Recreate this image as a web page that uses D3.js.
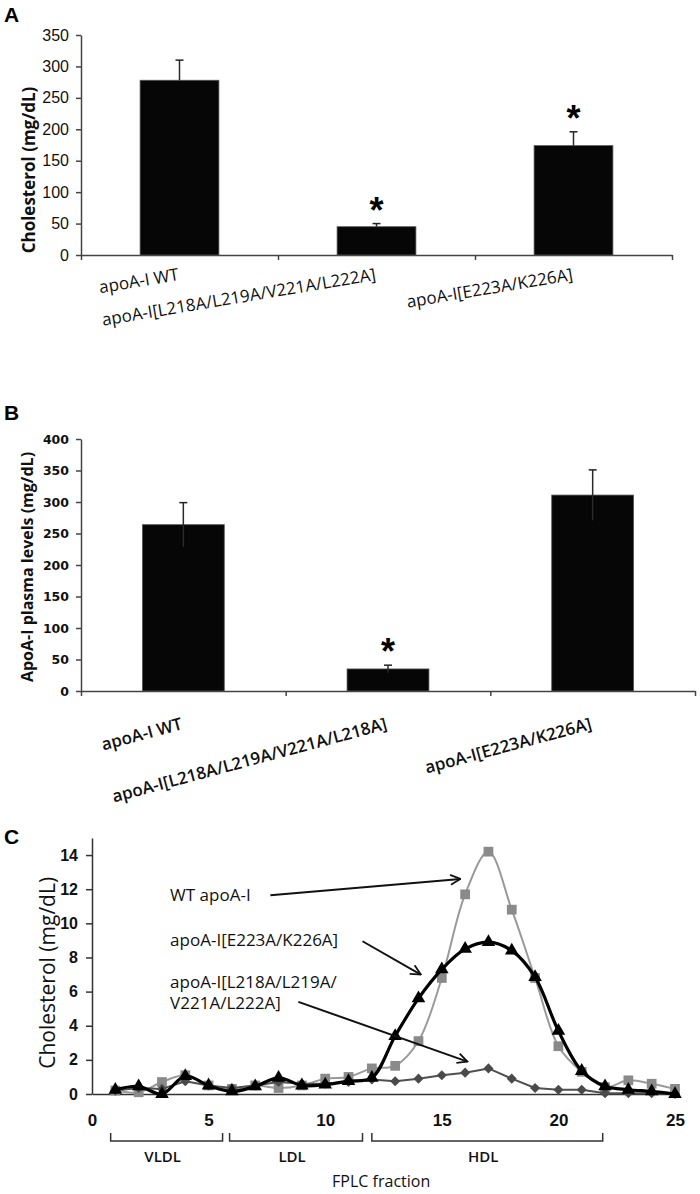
<!DOCTYPE html>
<html>
<head>
<meta charset="utf-8">
<script src="https://cdn.jsdelivr.net/npm/d3@7"></script>
<style>
  body { margin: 0; background: #fff; }
  svg { display: block; }
</style>
</head>
<body>
<div id="chart"></div>
<script>
// ---- panel A: plasma cholesterol
const catsA = ["apoA-I WT", "apoA-I[L218A/L219A/V221A/L222A]", "apoA-I[E223A/K226A]"];
const cholA = [278, 45, 174];
const cholAErr = [32, 5, 22];
const sigA = [false, true, true];
const ticksA = [0, 50, 100, 150, 200, 250, 300, 350];

// ---- panel B: apoA-I plasma levels
const catsB = ["apoA-I WT", "apoA-I[L218A/L219A/V221A/L218A]", "apoA-I[E223A/K226A]"];
const plasmaB = [264, 35, 311];
const plasmaBErr = [35, 6, 40];
const sigB = [false, true, false];
const ticksB = [0, 50, 100, 150, 200, 250, 300, 350, 400];

// ---- panel C: FPLC profiles
const fractions = [1,2,3,4,5,6,7,8,9,10,11,12,13,14,15,16,17,18,19,20,21,22,23,24,25];
const wtChol   = [0.2,0.1,0.7,1.1,0.5,0.3,0.5,0.35,0.5,0.9,1.0,1.5,1.65,3.1,6.8,11.7,14.2,10.8,6.8,2.8,1.3,0.4,0.8,0.6,0.3];
const e223Chol = [0.25,0.45,0.0,1.05,0.5,0.15,0.45,0.95,0.5,0.55,0.75,0.95,3.4,5.6,7.3,8.5,8.9,8.4,6.85,3.7,1.35,0.45,0.25,0.15,0.0];
const l218Chol = [0.2,0.35,0.3,0.75,0.5,0.35,0.5,0.7,0.6,0.6,0.7,0.85,0.75,0.9,1.1,1.25,1.5,0.9,0.35,0.25,0.25,0.05,0.05,0.05,0.0];
const ticksCy = [0, 2, 4, 6, 8, 10, 12, 14];
const ticksCx = [0, 5, 10, 15, 20, 25];
const lipoNames = ["VLDL", "LDL", "HDL"];
const lipoRanges = [[0.8, 5.6], [5.9, 11.6], [12, 21.9]];
const noteLines = [["WT apoA-I"], ["apoA-I[E223A/K226A]"], ["apoA-I[L218A/L219A/", "V221A/L222A]"]];

const W = 700, H = 1194;
const svg = d3.select("#chart").append("svg")
  .attr("width", W).attr("height", H)
  .style("font-family", "'Open Sans', sans-serif");

svg.append("defs").append("marker")
  .attr("id", "arrow")
  .attr("viewBox", "0 0 12 12")
  .attr("refX", 11).attr("refY", 6)
  .attr("markerWidth", 12).attr("markerHeight", 12)
  .attr("markerUnits", "userSpaceOnUse")
  .attr("orient", "auto")
  .append("path")
    .attr("d", "M1,1 L11,6 L1,11")
    .attr("fill", "none").attr("stroke", "#111").attr("stroke-width", 1.8);

// panel letters
svg.append("text").attr("x", 4).attr("y", 22).text("A");
svg.append("text").attr("x", 4).attr("y", 420).text("B");
svg.append("text").attr("x", 4).attr("y", 844).text("C");
svg.selectAll("svg > text")
  .attr("font-family", "'Liberation Sans', Arial, sans-serif")
  .attr("font-weight", "bold").attr("font-size", 21);

function barPanel(opt) {
  const g = svg.append("g");
  const y = d3.scaleLinear().domain([0, opt.ticks[opt.ticks.length - 1]]).range(opt.yRange);
  const x = d3.scaleBand().domain(opt.cats).range(opt.xRange);
  const xb = d3.scaleLinear().domain([0, opt.cats.length]).range(opt.xRange);
  const bw = x.bandwidth() * 0.4;

  // y axis
  const ya = g.append("g")
    .attr("transform", "translate(" + opt.xRange[0] + ",0)")
    .call(d3.axisLeft(y).tickValues(opt.ticks).tickSize(5).tickSizeOuter(0).tickPadding(opt.tickPad));
  ya.selectAll("text")
    .attr("font-family", opt.tickFont).attr("font-size", opt.tickSize)
    .attr("font-weight", opt.tickWeight).attr("fill", "#111");

  // x axis, ticks at category boundaries
  g.append("g")
    .attr("transform", "translate(0," + y(0) + ")")
    .call(d3.axisBottom(xb).tickValues(d3.range(opt.cats.length + 1)).tickFormat("").tickSize(5).tickSizeOuter(0));
  g.selectAll(".domain, .tick line").attr("stroke", "#444").attr("stroke-width", 1.5);

  // bars
  g.selectAll("rect.bar").data(opt.vals).join("rect")
    .attr("class", "bar")
    .attr("x", (d, i) => x(opt.cats[i]) + (x.bandwidth() - bw) / 2)
    .attr("y", d => y(d))
    .attr("width", bw)
    .attr("height", d => y(0) - y(d))
    .attr("fill", "#060606").attr("stroke", "#555").attr("stroke-width", 0.8);

  // error bars
  const cx = i => x(opt.cats[i]) + x.bandwidth() / 2;
  g.selectAll("line.err").data(opt.vals).join("line")
    .attr("class", "err")
    .attr("x1", (d, i) => cx(i)).attr("x2", (d, i) => cx(i))
    .attr("y1", (d, i) => y(d - (opt.showLow ? opt.errs[i] : 0)))
    .attr("y2", (d, i) => y(d + opt.errs[i]))
    .attr("stroke", "#2a2a2a").attr("stroke-width", 1.5);
  g.selectAll("line.cap").data(opt.vals).join("line")
    .attr("class", "cap")
    .attr("x1", (d, i) => cx(i) - 4).attr("x2", (d, i) => cx(i) + 4)
    .attr("y1", (d, i) => y(d + opt.errs[i])).attr("y2", (d, i) => y(d + opt.errs[i]))
    .attr("stroke", "#222").attr("stroke-width", 1.5);

  // significance stars
  opt.vals.forEach((d, i) => {
    if (!opt.sig[i]) return;
    g.append("text")
      .attr("x", cx(i)).attr("y", y(d + opt.errs[i]) - 1)
      .attr("text-anchor", "middle")
      .attr("font-family", "'Liberation Sans', Arial, sans-serif")
      .attr("font-weight", "bold").attr("font-size", 36)
      .text("*");
  });

  // category labels
  g.selectAll("text.cat").data(opt.cats).join("text")
    .attr("class", "cat")
    .attr("text-anchor", "end")
    .attr("transform", d => "translate(" + (x(d) + x.bandwidth() / 2) + "," + (y(0) + opt.labDy) + ") rotate(" + (-opt.labAngle) + ")")
    .attr("font-size", opt.labSize).attr("font-weight", opt.labWeight).attr("fill", "#111")
    .text(d => d);

  // y title
  g.append("text")
    .attr("transform", "translate(" + opt.titleX + "," + opt.titleY + ") rotate(-90)")
    .attr("text-anchor", "middle")
    .attr("font-size", opt.titleSize).attr("font-weight", "bold").attr("fill", "#111")
    .text(opt.title);
}

barPanel({
  cats: catsA, vals: cholA, errs: cholAErr, sig: sigA, ticks: ticksA,
  yRange: [255, 35], xRange: [81, 672], showLow: false,
  tickFont: "'Liberation Sans', Arial, sans-serif", tickSize: 16, tickWeight: "normal", tickPad: 7,
  labDy: 25, labAngle: 9.5, labSize: 17, labWeight: "normal",
  title: "Cholesterol (mg/dL)", titleSize: 17, titleX: 35, titleY: 170
});

barPanel({
  cats: catsB, vals: plasmaB, errs: plasmaBErr, sig: sigB, ticks: ticksB,
  yRange: [691, 439], xRange: [81, 695], showLow: true,
  tickFont: "'DejaVu Sans', sans-serif", tickSize: 12.5, tickWeight: "bold", tickPad: 7,
  labDy: 38, labAngle: 15, labSize: 17, labWeight: 600,
  title: "ApoA-I plasma levels (mg/dL)", titleSize: 16, titleX: 33, titleY: 567
});

// ---- panel C
const gc = svg.append("g");
const xc = d3.scaleLinear().domain([0, 25]).range([92, 675]);
const yc = d3.scaleLinear().domain([0, 15]).range([1094, 838]);

const yca = gc.append("g")
  .attr("transform", "translate(" + xc(0) + ",0)")
  .call(d3.axisLeft(yc).tickValues(ticksCy).tickSize(6).tickSizeOuter(0).tickPadding(8));
yca.selectAll("text").attr("font-size", 16).attr("font-weight", 600).attr("fill", "#111");

const xca = gc.append("g")
  .attr("transform", "translate(0," + yc(0) + ")")
  .call(d3.axisBottom(xc).tickValues(ticksCx).tickSize(0).tickSizeOuter(0).tickPadding(20));
xca.selectAll("text").attr("font-size", 17).attr("font-weight", 600).attr("fill", "#111");
gc.selectAll(".domain, .tick line").attr("stroke", "#333").attr("stroke-width", 1.5);

gc.append("text")
  .attr("transform", "translate(" + 55 + "," + yc(7.1) + ") rotate(-90)")
  .attr("text-anchor", "middle").attr("font-size", 21).attr("fill", "#111")
  .text("Cholesterol (mg/dL)");

// fraction brackets
const brTop = yc(0) + 39, brBot = yc(0) + 47;
gc.selectAll("path.br").data(lipoRanges).join("path")
  .attr("d", d => "M" + xc(d[0]) + "," + brTop + "V" + brBot + "H" + xc(d[1]) + "V" + brTop)
  .attr("fill", "none").attr("stroke", "#333").attr("stroke-width", 1.5);
gc.selectAll("text.br").data(lipoRanges).join("text")
  .attr("x", d => xc((d[0] + d[1]) / 2) - 4).attr("y", brBot + 21)
  .attr("text-anchor", "middle").attr("font-size", 15).attr("font-weight", 600).attr("fill", "#111")
  .text((d, i) => lipoNames[i]);
gc.append("text")
  .attr("x", xc(12.4)).attr("y", 1187)
  .attr("text-anchor", "middle").attr("font-size", 16).attr("fill", "#111")
  .text("FPLC fraction");

// series
const series = [
  { vals: wtChol,   color: "#9a9a9a", mark: "#8a8a8a", width: 2,   sym: d3.symbolSquare,   size: 95, curve: d3.curveCatmullRom },
  { vals: l218Chol, color: "#505050", mark: "#4a4a4a", width: 2,   sym: d3.symbolDiamond2, size: 65, curve: d3.curveLinear },
  { vals: e223Chol, color: "#000",    mark: "#000",    width: 3.2, sym: d3.symbolTriangle, size: 80, curve: d3.curveCatmullRom }
];
series.forEach(s => {
  const line = d3.line().x((d, i) => xc(fractions[i])).y(d => yc(d)).curve(s.curve);
  gc.append("path").datum(s.vals)
    .attr("d", line).attr("fill", "none")
    .attr("stroke", s.color).attr("stroke-width", s.width).attr("stroke-linejoin", "round");
  gc.append("g").selectAll("path").data(s.vals).join("path")
    .attr("transform", (d, i) => "translate(" + xc(fractions[i]) + "," + yc(d) + ")")
    .attr("d", d3.symbol(s.sym, s.size))
    .attr("fill", s.mark);
});

// annotations (text position and arrow ends in data units)
const notePos = [
  { tx: 3.35, ty: 11.28, from: [7.65, 11.65], to: [15.8, 12.6] },
  { tx: 3.35, ty: 8.7,   from: [11.6, 8.95],  to: [14.1, 7.0] },
  { tx: 3.35, ty: 6.2,   from: [8.85, 5.4],   to: [16.1, 1.9] }
];
noteLines.forEach((lines, i) => {
  const p = notePos[i];
  const t = gc.append("text")
    .attr("x", xc(p.tx)).attr("y", yc(p.ty))
    .attr("font-size", 17).attr("fill", "#111");
  lines.forEach((l, k) => t.append("tspan").attr("x", xc(p.tx)).attr("dy", k ? 21 : 0).text(l));
  gc.append("line")
    .attr("x1", xc(p.from[0])).attr("y1", yc(p.from[1]))
    .attr("x2", xc(p.to[0])).attr("y2", yc(p.to[1]))
    .attr("stroke", "#111").attr("stroke-width", 2)
    .attr("marker-end", "url(#arrow)");
});
</script>
</body>
</html>
